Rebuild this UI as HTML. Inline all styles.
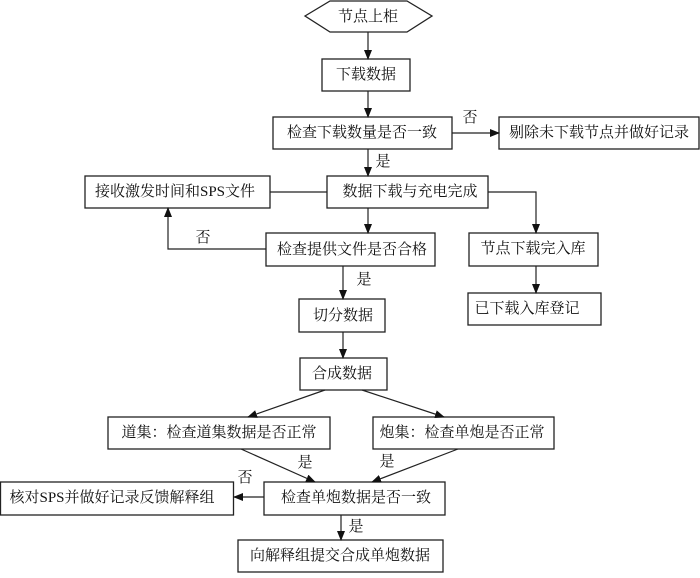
<!DOCTYPE html>
<html><head><meta charset="utf-8"><style>
html,body{margin:0;padding:0;background:#fff;}
svg text{font-family:"Liberation Serif","Noto Serif CJK SC",serif;font-size:15px;fill:#111;}
</style></head><body>
<svg width="700" height="573" viewBox="0 0 700 573" xmlns="http://www.w3.org/2000/svg">
<defs><marker id="a" markerWidth="10" markerHeight="8" refX="9" refY="4" orient="auto" markerUnits="userSpaceOnUse"><path d="M0,0 L10,4 L0,8 z" fill="#111"/></marker></defs>
<g fill="none" stroke="#222" stroke-width="1.3">
<polygon points="305,16 330,1 407,1 432,16 407,32 330,32"/>
<rect x="322" y="59" width="88" height="32"/>
<rect x="273" y="117" width="179" height="32"/>
<rect x="499" y="117" width="200" height="32"/>
<rect x="327" y="176" width="161" height="32"/>
<rect x="85" y="176" width="185" height="32"/>
<rect x="469" y="233" width="129" height="33"/>
<rect x="266" y="233" width="169" height="33"/>
<rect x="468" y="293" width="133" height="32"/>
<rect x="299" y="299" width="86" height="33"/>
<rect x="300" y="358" width="87" height="32"/>
<rect x="108" y="417" width="222" height="32"/>
<rect x="373" y="417" width="181" height="32"/>
<rect x="264" y="482" width="181" height="33"/>
<rect x="0.5" y="482" width="233" height="33"/>
<rect x="238" y="540" width="205" height="32"/>
</g>
<g stroke="#222" stroke-width="1.2" fill="none" marker-end="url(#a)">
<line x1="368" y1="32" x2="368" y2="59"/>
<line x1="368" y1="91" x2="368" y2="117"/>
<line x1="452" y1="133" x2="499" y2="133"/>
<line x1="368" y1="149" x2="368" y2="176"/>
<polyline points="488,192 536,192 536,233"/>
<line x1="368" y1="208" x2="368" y2="233"/>
<polyline points="266,249 168,249 168,208"/>
<line x1="343" y1="266" x2="343" y2="299"/>
<line x1="536" y1="266" x2="536" y2="293"/>
<line x1="343" y1="332" x2="343" y2="358"/>
<line x1="325" y1="390" x2="248" y2="417"/>
<line x1="362" y1="390" x2="444" y2="417"/>
<line x1="241" y1="449" x2="315" y2="482"/>
<line x1="458" y1="449" x2="372" y2="482"/>
<line x1="264" y1="497" x2="234" y2="497"/>
<line x1="341" y1="515" x2="341" y2="540"/>
</g>
<line x1="270" y1="192" x2="327" y2="192" stroke="#222" stroke-width="1.2"/>
<g text-anchor="middle" dominant-baseline="central">
<text x="368" y="17">节点上柜</text>
<text x="366" y="75">下载数据</text>
<text x="362" y="133">检查下载数量是否一致</text>
<text x="599" y="133">剔除未下载节点并做好记录</text>
<text x="410" y="192">数据下载与充电完成</text>
<text x="175" y="192">接收激发时间和SPS文件</text>
<text x="533" y="249">节点下载完入库</text>
<text x="352" y="250">检查提供文件是否合格</text>
<text x="527" y="309">已下载入库登记</text>
<text x="343" y="316">切分数据</text>
<text x="342" y="374">合成数据</text>
<text x="219" y="433">道集：检查道集数据是否正常</text>
<text x="462" y="433">炮集：检查单炮是否正常</text>
<text x="356" y="498">检查单炮数据是否一致</text>
<text x="112" y="498">核对SPS并做好记录反馈解释组</text>
<text x="340" y="556">向解释组提交合成单炮数据</text>
<text x="470" y="118">否</text>
<text x="383" y="162">是</text>
<text x="203" y="238">否</text>
<text x="364" y="280">是</text>
<text x="305" y="463">是</text>
<text x="387" y="462">是</text>
<text x="245" y="478">否</text>
<text x="356" y="527">是</text>
</g>
</svg>
</body></html>
